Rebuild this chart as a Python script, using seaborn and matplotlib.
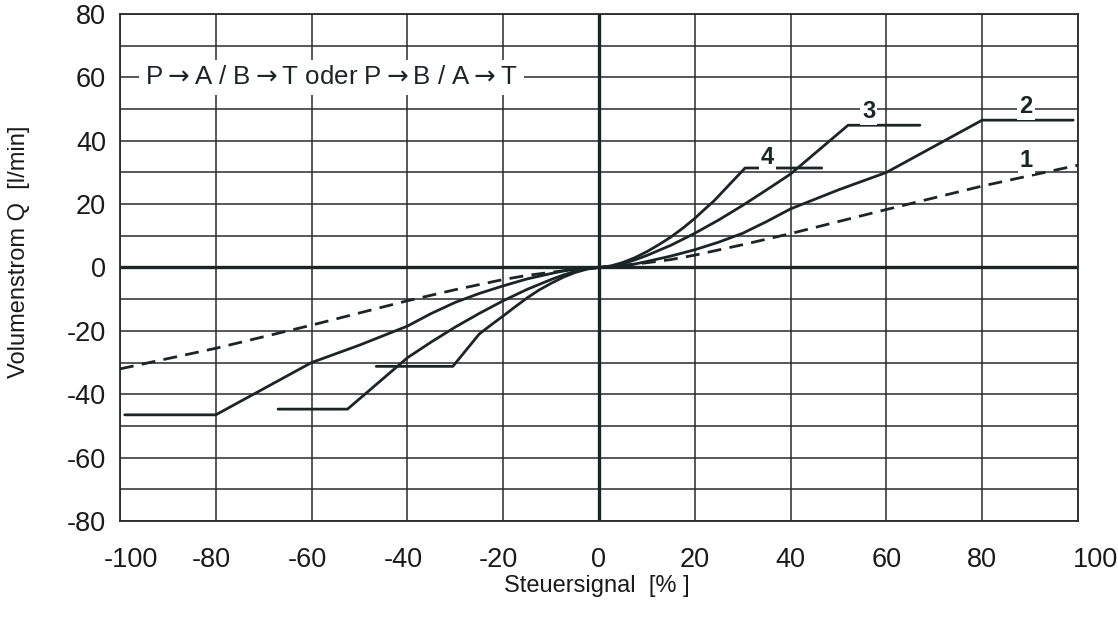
import matplotlib
matplotlib.use('Agg')
import matplotlib.pyplot as plt
import matplotlib.transforms as mtransforms
import seaborn as sns
import pandas as pd

# Kennlinien Volumenstrom Q [l/min] über Steuersignal [%]
x1 = [-100, -80, -60, -40, -30, -20, -15, -10, -5, 0, 5, 10, 15, 20, 30, 40, 60, 80, 100]
y1 = [-32, -25.5, -18.2, -10.5, -7, -3.8, -2.5, -1.5, -0.6, 0, 0.6, 1.5, 2.5, 3.9, 7.2, 10.7, 18.3, 25.7, 32.3]

x2 = [-99, -80, -60, -50, -40, -35, -30, -25, -20, -15, -10, -7.5, -5, -2.5, 0,
      2.5, 5, 7.5, 10, 15, 20, 25, 30, 35, 40, 50, 60, 80, 99]
y2 = [-46.5, -46.5, -30, -24.5, -18.5, -14.5, -11, -8.2, -5.8, -3.6, -1.9, -1.1, -0.6, -0.2, 0,
      0.2, 0.6, 1.1, 1.9, 3.6, 5.6, 8, 10.8, 14.5, 18.5, 24.5, 30, 46.5, 46.5]

x3 = [-67, -52.5, -40, -35, -30, -25, -20, -15, -10, -7.5, -5, -2.5, 0,
      2.5, 5, 7.5, 10, 15, 20, 25, 30, 35, 40, 52, 67]
y3 = [-44.7, -44.7, -28.5, -23.5, -18.8, -14.5, -10.5, -6.9, -3.8, -2.4, -1.2, -0.4, 0,
      0.4, 1.2, 2.4, 3.8, 7, 10.8, 15, 19.6, 24.5, 29.5, 44.9, 44.9]

x4 = [-46.5, -30.5, -25, -22.5, -20, -17.5, -15, -12.5, -10, -7.5, -5, -2.5, 0,
      2.5, 5, 7.5, 10, 12.5, 15, 17.5, 20, 22, 24, 30.5, 46.5]
y4 = [-31.2, -31.2, -21, -18.1, -15.3, -12.4, -9.6, -7.1, -5, -3.1, -1.6, -0.5, 0,
      0.5, 1.6, 3.1, 5, 7.2, 9.6, 12.4, 15.5, 18.3, 21, 31.4, 31.4]

curve_labels = ['1', '2', '3', '4']
label_x = [89.2, 89.2, 56.3, 35.2]
label_y = [33.8, 50.7, 49.2, 34.7]

x_ticks = [-100, -80, -60, -40, -20, 0, 20, 40, 60, 80, 100]
y_ticks = [-80, -60, -40, -20, 0, 20, 40, 60, 80]

ink = '#1b2525'

sns.set_theme(style='white')
plt.rcParams['font.family'] = ['Liberation Sans', 'DejaVu Sans']
plt.rcParams['mathtext.fontset'] = 'dejavusans'

fig = plt.figure(figsize=(11.18, 6.28), dpi=100)
ax = fig.add_axes([0.1073, 0.1704, 0.8569, 0.8073])

# Gitter
ax.set_xlim(-100, 100)
ax.set_ylim(-80, 80)
ax.set_xticks(x_ticks)
ax.set_yticks(y_ticks)
ax.set_yticks(range(-70, 80, 20), minor=True)
ax.grid(True, which='both', color='#2a2a2a', linewidth=1.1)
ax.set_axisbelow(True)
ax.axhline(0, color=ink, linewidth=2.4, zorder=2)
ax.axvline(0, color=ink, linewidth=2.4, zorder=2)
for s in ax.spines.values():
    s.set_color('#2a2a2a')
    s.set_linewidth(1.3)

# Kurven
curves = [(x1, y1, '--'), (x2, y2, '-'), (x3, y3, '-'), (x4, y4, '-')]
for xs, ys, ls in curves:
    df = pd.DataFrame({'x': xs, 'y': ys})
    sns.lineplot(data=df, x='x', y='y', ax=ax, sort=False, estimator=None,
                 color=ink, linewidth=2.0, linestyle=ls, zorder=3)
    if ls == '--':
        ax.lines[-1].set_dashes((5, 3))

for lab, lx, ly in zip(curve_labels, label_x, label_y):
    ax.text(lx, ly, lab, fontsize=17, fontweight='bold', color=ink,
            ha='center', va='center', zorder=4,
            bbox=dict(facecolor='white', edgecolor='none', pad=1.5))

arrow = r'$\rightarrow$'
ax.text(-94.8, 60, f'P{arrow}A / B{arrow}T oder P{arrow}B / A{arrow}T', fontsize=18.6,
        color=ink, ha='left', va='center', zorder=4,
        bbox=dict(facecolor='white', edgecolor='none', pad=4))

# Achsenbeschriftung
ax.set_xticklabels([str(v) for v in x_ticks])
ax.set_yticklabels([str(v) for v in y_ticks])
ax.tick_params(axis='both', which='both', length=0, labelsize=19.5, labelcolor='#1a1a1a')
ax.tick_params(axis='x', pad=19)
ax.tick_params(axis='y', pad=10)

hyph = 0.333 * 19.5 / 72 / 2
for lab, v in zip(ax.get_xticklabels(), x_ticks):
    dx = -hyph if v < 0 else 0
    if v == -100:
        dx += 15 / 100
    if v == 100:
        dx += 18 / 100
    lab.set_transform(lab.get_transform() + mtransforms.ScaledTranslation(dx, 0, fig.dpi_scale_trans))

ax.set_xlabel('Steuersignal  [% ]', fontsize=17, color='#1a1a1a')
ax.set_ylabel('Volumenstrom Q  [l/min]', fontsize=17, color='#1a1a1a')
ax.xaxis.label.set_va('center')
ax.yaxis.label.set_va('center')
ax.xaxis.set_label_coords(0.498, -0.128)
ax.yaxis.set_label_coords(-0.1054, 0.531)

fig.savefig('out.png', dpi=100, facecolor='white')
